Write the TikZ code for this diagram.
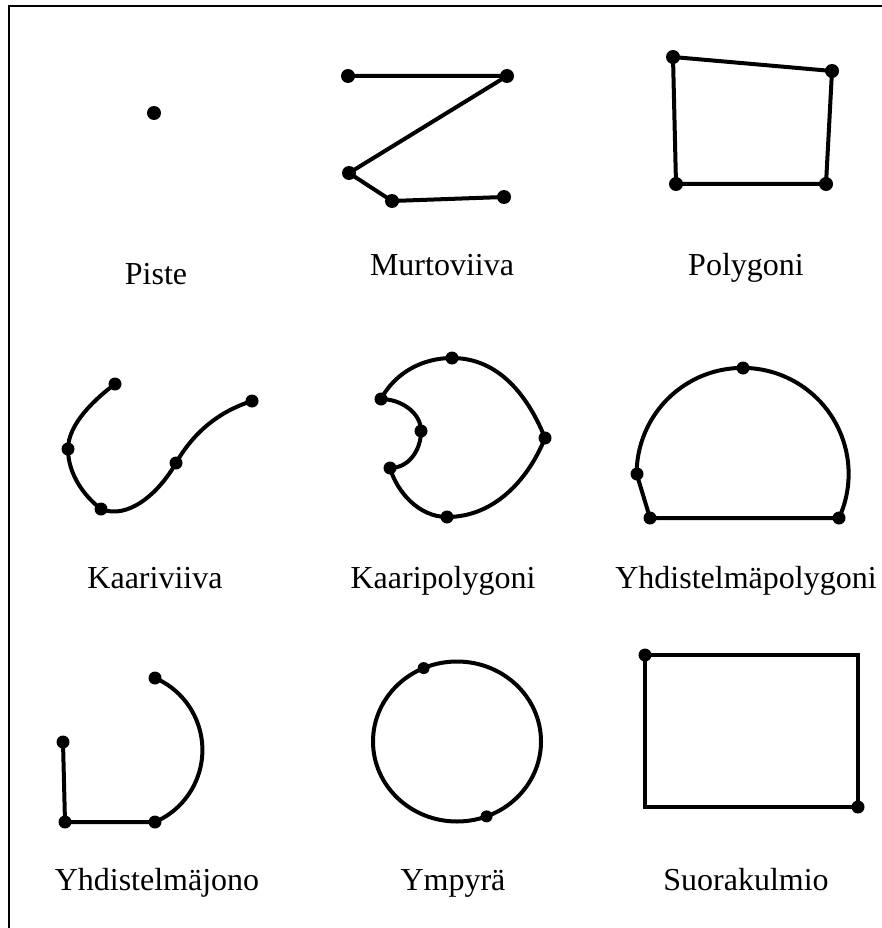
\documentclass[tikz,border=0pt]{standalone}
\usepackage{fontspec}
\setmainfont{Liberation Serif}
\begin{document}
\begin{tikzpicture}[x=1pt,y=1pt,
  geo/.style={line width=4pt, line join=round, line cap=round},
  frame/.style={line width=2.6pt},
  lbl/.style={anchor=base, inner sep=0pt, font=\fontsize{32}{36}\selectfont}]
\useasboundingbox (0,0) rectangle (882,-928);
% frame
\coordinate (fb) at (9,-928);
\coordinate (fc) at (9,-6);
\coordinate (fr) at (882,-6);
\draw[frame] (fb) -- (fc) -- (fr);

% Piste
\coordinate (p0) at (154,-113);
\fill (p0) circle[radius=7];
\node[lbl] (lpiste) at (156,-284) {Piste};

% Murtoviiva
\coordinate (m1) at (348,-76);
\coordinate (m2) at (507,-76);
\coordinate (m3) at (349,-173);
\coordinate (m4) at (392,-201);
\coordinate (m5) at (504,-197);
\draw[geo] (m1) -- (m2) -- (m3) -- (m4) -- (m5);
\foreach \p in {m1,m2,m3,m4,m5} \fill (\p) circle[radius=7];
\node[lbl] (lmurto) at (442,-275) {Murtoviiva};

% Polygoni
\coordinate (q1) at (673,-57);
\coordinate (q2) at (832,-71);
\coordinate (q3) at (826,-184);
\coordinate (q4) at (676,-184);
\draw[geo] (q1) -- (q2) -- (q3) -- (q4) -- cycle;
\foreach \p in {q1,q2,q3,q4} \fill (\p) circle[radius=7];
\node[lbl] (lpoly) at (746,-275) {Polygoni};

% Kaariviiva
\coordinate (k1) at (115,-384);
\coordinate (k2) at (68,-449);
\coordinate (k3) at (101,-509);
\coordinate (k4) at (176,-463);
\coordinate (k5) at (252,-401);
\draw[geo] (k1) .. controls (95,-399) and (68,-424) .. (k2)
  .. controls (68,-474) and (84,-496) .. (k3)
  .. controls (128,-520) and (158.5,-493.5) .. (k4)
  .. controls (193.5,-432.5) and (218.75,-411.5) .. (k5);
\foreach \p in {k1,k2,k3,k4,k5} \fill (\p) circle[radius=6.5];
\node[lbl] (lkaari) at (155,-588) {Kaariviiva};

% Kaaripolygoni
\coordinate (c1) at (381,-399);
\coordinate (c2) at (452,-358);
\coordinate (c3) at (545,-438);
\coordinate (c4) at (447,-517);
\coordinate (c5) at (390,-468);
\coordinate (c6) at (421,-431);
\draw[geo] (c1) .. controls (395,-373) and (422,-358) .. (c2)
  .. controls (499,-358) and (528,-396) .. (c3)
  .. controls (528,-480) and (494,-517) .. (c4)
  .. controls (419,-517) and (397,-492) .. (c5)
  .. controls (409,-468) and (421,-450) .. (c6)
  .. controls (421,-412) and (400,-399) .. (c1) -- cycle;
\foreach \p in {c1,c2,c3,c4,c5,c6} \fill (\p) circle[radius=6.5];
\node[lbl] (lkpoly) at (443,-588) {Kaaripolygoni};

% Yhdistelmapolygoni
\coordinate (y1) at (839,-518);
\coordinate (y2) at (743,-368);
\coordinate (y3) at (637,-474);
\coordinate (y4) at (650,-518);
\draw[geo] (y1) arc[start angle=-24.6, end angle=180, radius=106] -- (y4) -- cycle;
\foreach \p in {y1,y2,y3,y4} \fill (\p) circle[radius=6.5];
\node[lbl] (lypoly) at (746,-588) {Yhdistelmäpolygoni};

% Yhdistelmajono
\coordinate (j1) at (63,-742);
\coordinate (j2) at (65,-822);
\coordinate (j3) at (155,-822);
\coordinate (j4) at (155,-678);
\draw[geo] (j1) -- (j2) -- (j3) arc[start angle=-66.7, end angle=67.5, radius=78.4];
\foreach \p in {j1,j2,j3,j4} \fill (\p) circle[radius=6.5];
\node[lbl] (ljono) at (157,-890) {Yhdistelmäjono};

% Ympyra
\coordinate (e0) at (457,-741.5);
\draw[geo] (e0) ellipse[x radius=84, y radius=80];
\path (e0) ++(113.4:84 and 80) coordinate (e1);
\path (e0) ++(-69.4:84 and 80) coordinate (e2);
\foreach \p in {e1,e2} \fill (\p) circle[radius=6];
\node[lbl] (lymp) at (453,-890) {Ympyrä};

% Suorakulmio
\coordinate (r1) at (645,-655);
\coordinate (r2) at (858,-807);
\draw[geo, line join=miter] (r1) rectangle (r2);
\foreach \p in {r1,r2} \fill (\p) circle[radius=6.5];
\node[lbl] (lsuora) at (746,-890) {Suorakulmio};
\end{tikzpicture}
\end{document}
